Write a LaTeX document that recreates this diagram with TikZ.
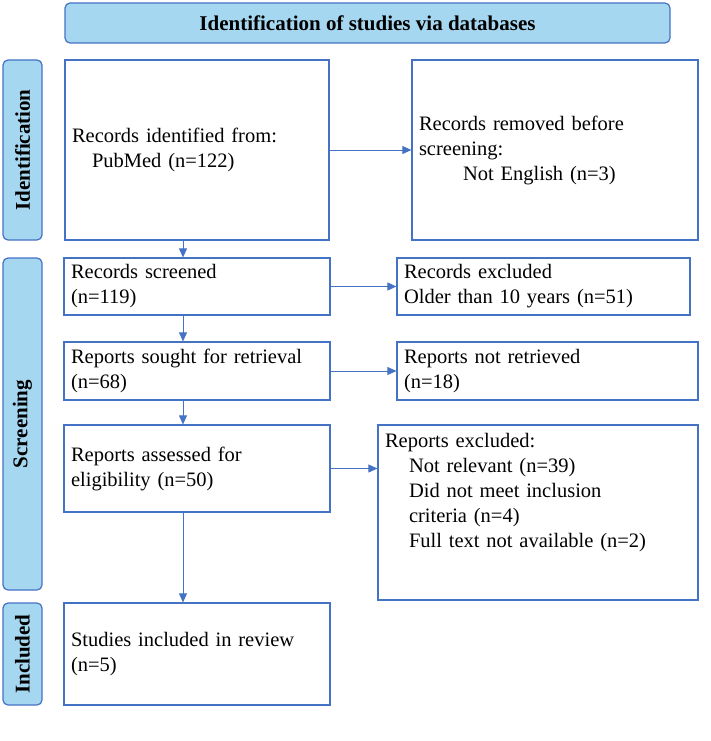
\documentclass[tikz,border=0pt]{standalone}
\usepackage{fontspec}
\setmainfont{Liberation Serif}
\usetikzlibrary{positioning, calc, arrows.meta}
\definecolor{prblue}{RGB}{68,114,196}
\definecolor{prfill}{RGB}{166,215,240}
\begin{document}
\begin{tikzpicture}[x=1pt,y=-1pt,
  box/.style={draw=prblue, line width=1.2pt, align=left, inner sep=0pt, font=\fontsize{20.5}{25}\selectfont},
  banner/.style={draw=prblue, fill=prfill, line width=1.2pt, rounded corners=5pt, font=\bfseries\fontsize{21}{24}\selectfont},
  phase/.style={banner, rotate=90},
  flow/.style={-{Triangle[length=9pt,width=8pt]}, prblue, line width=0.8pt}]
  \useasboundingbox (0,0) rectangle (711,741);

  \node [banner, minimum width=605pt, minimum height=40pt] (top) at (367.5,23) {Identification of studies via databases};

  \node [phase, minimum width=180pt, minimum height=39pt] (ident) at (22.5,150) {Identification};
  \node [phase, minimum width=332pt, minimum height=39pt] (screen) at (22.5,424) {Screening};
  \node [phase, minimum width=102pt, minimum height=39pt] (incl) at (22.5,654) {Included};

  % left column
  \node [box, minimum width=264pt, minimum height=180pt, text width=250pt] (recid) at (197,150) {Records identified from:\\\hspace{20pt}PubMed (n=122)};
  \node [box, minimum width=266pt, minimum height=57pt, text width=252pt] (scr) at (197,286.5) {Records screened\\(n=119)};
  \node [box, minimum width=266pt, minimum height=58pt, text width=252pt] (sought) at (197,371) {Reports sought for retrieval\\(n=68)};
  \node [box, minimum width=266pt, minimum height=87pt, text width=252pt] (assess) at (197,468.5) {Reports assessed for\\eligibility (n=50)};
  \node [box, minimum width=266pt, minimum height=102pt, text width=252pt] (study) at (197,654) {Studies included in review\\(n=5)};

  % right column
  \node [box, minimum width=286pt, minimum height=180pt, text width=272pt] (removed) at (555,150) {Records removed before\\screening:\\\hspace{44pt}Not English (n=3)};
  \node [box, minimum width=293pt, minimum height=57pt, text width=279pt] (excl) at (543.5,286.5) {Records excluded\\Older than 10 years (n=51)};
  \node [box, minimum width=301pt, minimum height=58pt, text width=287pt] (notret) at (547.5,371) {Reports not retrieved\\(n=18)};
  \node [box, minimum width=320pt, minimum height=175pt] (repex) at (538,512.5) {};
  \node [box, draw=none, anchor=north west, text width=306pt] (repextext) at ($(repex.north west)+(7,8)$) {Reports excluded:\\\hspace{24pt}Not relevant (n=39)\\\hspace{24pt}Did not meet inclusion\\\hspace{24pt}criteria (n=4)\\\hspace{24pt}Full text not available (n=2)};

  % connectors
  \draw [flow] (recid.south -| 183,0) -- (scr.north -| 183,0);
  \draw [flow] (scr.south -| 183,0) -- (sought.north -| 183,0);
  \draw [flow] (sought.south -| 183,0) -- (assess.north -| 183,0);
  \draw [flow] (assess.south -| 183,0) -- (study.north -| 183,0);
  \draw [flow] (recid.east) -- (removed.west);
  \draw [flow] (scr.east) -- (excl.west);
  \draw [flow] (sought.east) -- (notret.west);
  \draw [flow] (assess.east) -- (repex.west |- assess.east);
\end{tikzpicture}
\end{document}
